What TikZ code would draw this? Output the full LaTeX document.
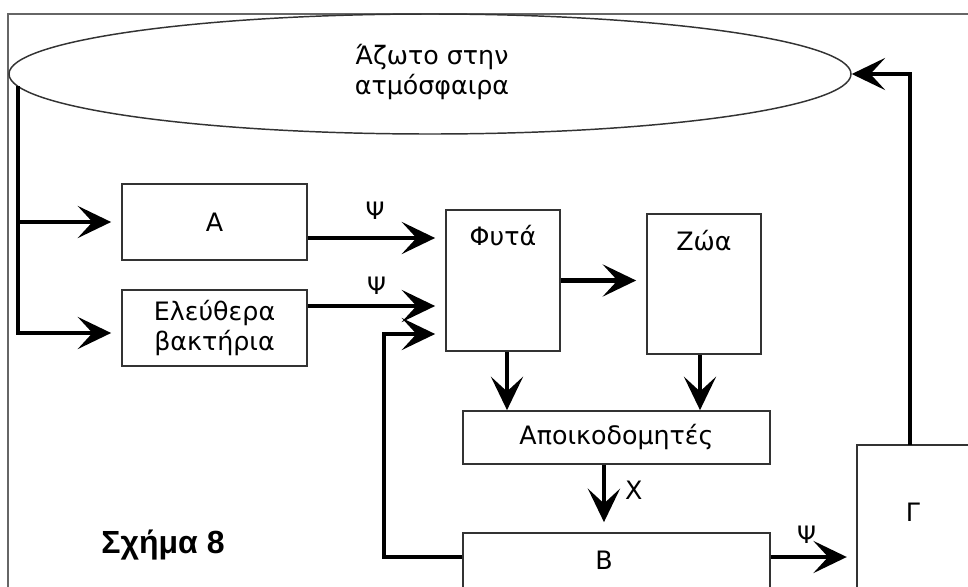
\documentclass[tikz,border=0pt]{standalone}
\usepackage{fontspec}
\setmainfont{DejaVu Sans}
\newfontfamily\capfont{Liberation Sans}
\usetikzlibrary{arrows.meta,shapes.geometric,calc}
\begin{document}
\begin{tikzpicture}[x=0.75pt,y=-0.75pt,
  box/.style={draw=black!80,line width=1.3pt,rectangle,inner sep=0pt,font=\fontsize{19}{22.5}\selectfont},
  flow/.style={line width=3.6pt,line join=miter,-{Stealth[length=25pt,width=24pt,inset=11pt]}},
  lbl/.style={font=\fontsize{19}{22.5}\selectfont,inner sep=0pt},
  plbl/.style={font=\fontsize{18}{20}\selectfont,inner sep=0pt}]
\useasboundingbox (0,0) rectangle (968,586);
\clip (0,0) rectangle (968,586);
% frame
\draw[draw=black!60,line width=1.2pt] (8,14) rectangle (1010,640);
% ellipse
\node[ellipse,draw=black!80,line width=1.1pt,minimum width=842*0.75pt,minimum height=120*0.75pt,inner sep=0pt] (atm) at (430,74) {};
\node[lbl,align=center] (atmt) at (432,72) {Άζωτο στην\\ατμόσφαιρα};
% boxes
\node[box,minimum width=185*0.75pt,minimum height=76*0.75pt] (A) at (214.5,222) {A};
\node[box,minimum width=185*0.75pt,minimum height=76*0.75pt,align=center] (El) at (214.5,328) {Ελεύθερα\\βακτήρια};
\node[box,minimum width=114*0.75pt,minimum height=141*0.75pt] (F) at (503,280.5) {};
\node[lbl] (Ft) at (503,236) {Φυτά};
\node[box,minimum width=114*0.75pt,minimum height=140*0.75pt] (Z) at (704,284) {};
\node[lbl] (Zt) at (704,241) {Ζώα};
\node[box,minimum width=307*0.75pt,minimum height=53*0.75pt] (Ap) at (616.5,437.5) {Αποικοδομητές};
\node[box,minimum width=307*0.75pt,minimum height=80*0.75pt] (B) at (616.5,573) {};
\node[lbl] (Bt) at (604,560) {B};
\node[box,minimum width=150*0.75pt,minimum height=200*0.75pt] (G) at (932,545) {};
\node[lbl] (Gt) at (913,512) {Γ};
% coordinates
\coordinate (s) at (18,86);
\coordinate (fb) at (384,557);
\coordinate (fbt) at (384,334);
\coordinate (gup) at (910,445);
% arrows from atmosphere
\draw[flow,shorten >=7.5pt] (s) |- ([yshift=-3.75pt]El.west);
\draw[flow,shorten >=7.5pt] (s |- A.west) -- (A.west);
% to plants
\draw[flow,shorten >=7.5pt] ([yshift=-12pt]A.east) -- ([yshift=-12pt]A.east -| F.west) node[plbl,pos=0.49,above=12pt] (psi1) {Ψ};
\draw[flow,shorten >=7.5pt] ([yshift=16.5pt]El.east) -- ([yshift=16.5pt]El.east -| F.west) node[plbl,pos=0.5,above=7pt] (psi2) {Ψ};
% feedback from B
\draw[flow,shorten >=7.5pt] ([yshift=12pt]B.west) -- (fb) -- (fbt) -- (fbt -| F.west);
% plants to animals
\draw[flow,shorten >=7.5pt] (F.east) -- (F.east -| Z.west);
% down to decomposers
\draw[flow] ([xshift=3pt]F.south) -- ([xshift=3pt]F.south |- Ap.north);
\draw[flow] ([xshift=-3pt]Z.south) -- ([xshift=-3pt]Z.south |- Ap.north);
% X
\draw[flow,shorten >=7.5pt] ([xshift=-9.4pt]Ap.south) -- ([xshift=-9.4pt]Ap.south |- B.north) node[lbl,pos=0.38,right=14pt] (X) {X};
% B to Gamma
\draw[flow,shorten >=7pt] ([yshift=12pt]B.east) -- ([yshift=12pt]B.east -| G.west) node[plbl,pos=0.42,above=8pt] (psi3) {Ψ};
% Gamma to atmosphere
\draw[flow] (gup) |- (atm.east);
% caption
\node[font=\capfont\bfseries\fontsize{24}{28}\selectfont,inner sep=0pt] (cap) at (163,545) {Σχήμα 8};
\end{tikzpicture}
\end{document}
